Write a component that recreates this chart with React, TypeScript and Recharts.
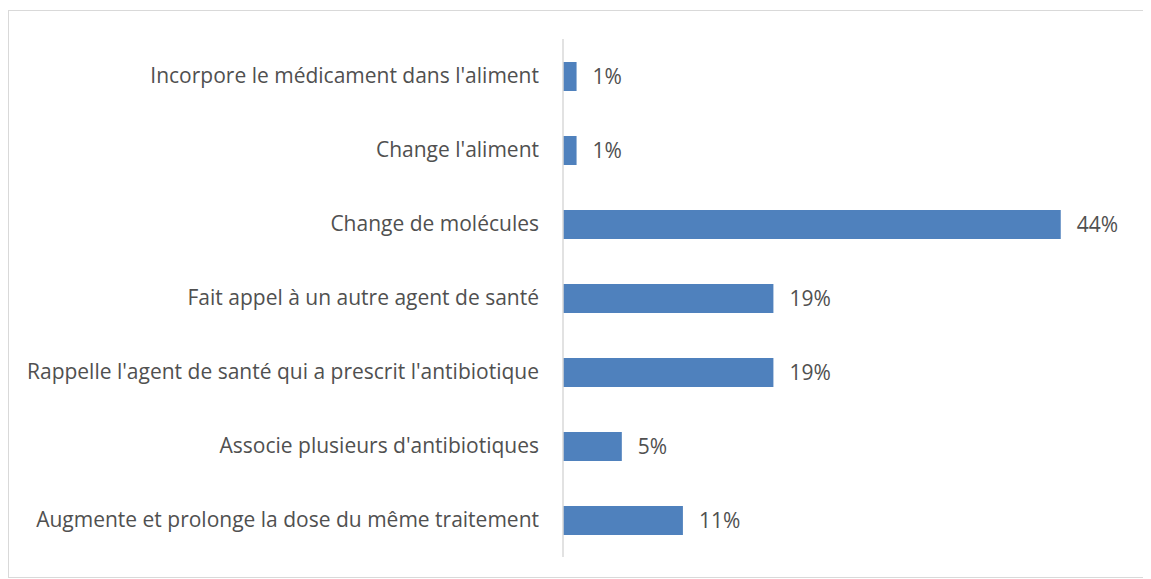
import { BarChart, Bar, XAxis, YAxis, LabelList } from "recharts";

const categories = [
  "Incorpore le médicament dans l'aliment",
  "Change l'aliment",
  "Change de molécules",
  "Fait appel à un autre agent de santé",
  "Rappelle l'agent de santé qui a prescrit l'antibiotique",
  "Associe plusieurs d'antibiotiques",
  "Augmente et prolonge la dose du même traitement",
];

// values; labels show rounded percentages
const values = [1.2, 1.2, 44, 18.6, 18.6, 5.2, 10.6];

const data = categories.map((name, i) => ({ name, value: values[i] }));

const font = "'Open Sans', sans-serif";

export default function App() {
  return (
    <div
      style={{
        marginTop: 2,
        width: 1138,
        height: 566,
        border: "1px solid #d9d9d9",
        fontFamily: font,
      }}
    >
      <BarChart
        width={1138}
        height={566}
        data={data}
        layout="vertical"
        margin={{ top: 28, right: 41, bottom: 20, left: 0 }}
      >
        <XAxis type="number" domain={[0, 48]} hide />
        <YAxis
          type="category"
          dataKey="name"
          width={554}
          tickLine={false}
          axisLine={{ stroke: "#d9d9d9", strokeWidth: 1.5 }}
          tickMargin={18}
          interval={0}
          tick={{ fill: "#505050", fontSize: 21, fontFamily: font }}
        />
        <Bar dataKey="value" fill="#4f81bd" barSize={29} isAnimationActive={false}>
          <LabelList
            dataKey="value"
            position="right"
            offset={16}
            formatter={(v: number) => `${Math.round(v)}%`}
            style={{ fill: "#505050", fontSize: 21, fontFamily: font }}
          />
        </Bar>
      </BarChart>
    </div>
  );
}
